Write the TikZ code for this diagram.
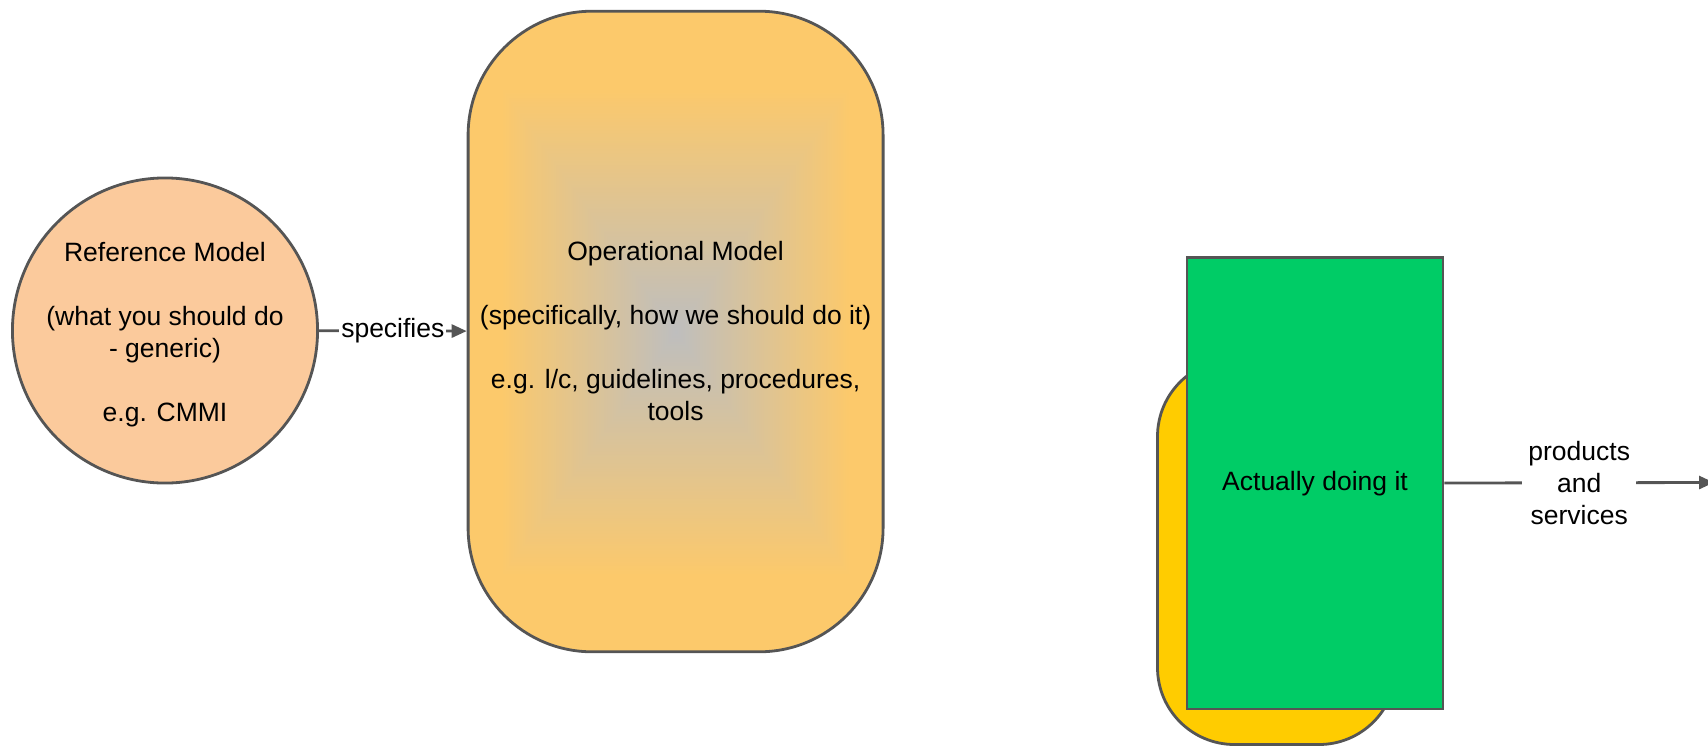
\documentclass[tikz,border=0pt]{standalone}
\usepackage{fontspec}
\setmainfont{Liberation Sans}
\usetikzlibrary{arrows.meta}
\definecolor{edgegray}{HTML}{555555}
\definecolor{peach}{HTML}{FBCA9C}
\definecolor{sunyellow}{HTML}{FFCC00}
\definecolor{leafgreen}{HTML}{00CC66}

% rectangular fade: grey in the middle, gold towards the edges
% (the path box covers the central 25bp..75bp square of the shading)
\pgfdeclarefunctionalshading{boxfade}{\pgfpoint{0bp}{0bp}}{\pgfpoint{100bp}{100bp}}{}{
  50 sub abs 19 div exch 50 sub abs 21 div
  2 copy lt {exch} if pop
  dup 1 gt {pop 1} if
  dup 0.243 mul 0.745 add exch
  dup 0.043 mul 0.745 add exch
  -0.325 mul 0.745 add
}

\begin{document}
\begin{tikzpicture}[x=1pt,y=-1pt,
  txt/.style={font=\fontsize{26.5}{32}\selectfont, align=center},
  shapebox/.style={txt, draw=edgegray, line width=2.8pt, inner sep=0pt},
  conn/.style={draw=edgegray, line width=2.8pt, -{Triangle[length=15pt,width=13pt]}},
  lbl/.style={txt, fill=white, inner xsep=2pt, inner ysep=1pt}]
\useasboundingbox (0,0) rectangle (1708,747);
\clip (0,0) rectangle (1708,747);

% reference model
\node[shapebox, circle, fill=peach, minimum size=301.5pt] (ref) at (165,330.5)
  {\rule{0pt}{28pt}Reference Model\\[32pt](what you should do\\- generic)\\[32pt]e.g. CMMI};

% operational model
\node[shapebox, rectangle, rounded corners=124pt, minimum width=415pt,
      minimum height=640.6pt, shading=boxfade] (op) at (675.6,331.5)
  {Operational Model\\[32pt](specifically, how we should do it)\\[32pt]e.g. l/c, guidelines, procedures,\\tools};

% practice: yellow card behind the green sheet
\node[draw=edgegray, line width=2.8pt, fill=sunyellow, rounded corners=77pt,
      minimum width=238.5pt, minimum height=385pt, inner sep=0pt] (back) at (1276.75,552) {};
\node[shapebox, rectangle, fill=leafgreen, minimum width=256pt,
      minimum height=451.5pt] (act) at (1315,483.25) {Actually doing it};

% connectors
\draw[conn] (ref) -- node[lbl]{specifies} (op);
\coordinate (outend) at (1714,482.5);
\draw[conn] (act) -- node[lbl, inner xsep=6pt]{products\\and\\services} (outend);
\end{tikzpicture}
\end{document}
